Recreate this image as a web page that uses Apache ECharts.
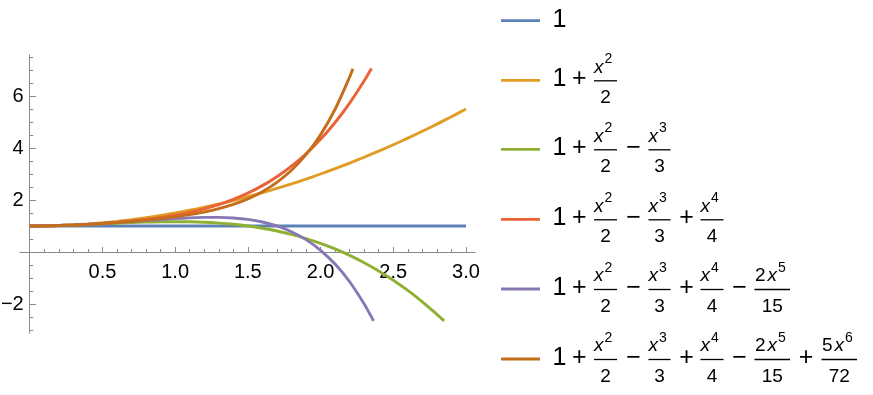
<!DOCTYPE html>
<html><head><meta charset="utf-8">
<script src="https://cdn.jsdelivr.net/npm/echarts@6/dist/echarts.min.js"></script>
<style>html,body{margin:0;padding:0;background:#fff}#c{width:873px;height:395px}</style>
</head><body><div id="c"></div>
<script>
// ---- data ----
const xs = [0,0.1,0.2,0.3,0.4,0.5,0.6,0.7,0.8,0.9,1.0,1.1,1.2,1.3,1.4,1.5,1.6,1.7,1.8,1.9,2.0,2.1,2.2,2.3,2.4,2.5,2.6,2.7,2.8,2.9,3.0];
const y1 = [1,1,1,1,1,1,1,1,1,1,1,1,1,1,1,1,1,1,1,1,1,1,1,1,1,1,1,1,1,1,1];
const y2 = [1,1.005,1.02,1.045,1.08,1.125,1.18,1.245,1.32,1.405,1.5,1.605,1.72,1.845,1.98,2.125,2.28,2.445,2.62,2.805,3.0,3.205,3.42,3.645,3.88,4.125,4.38,4.645,4.92,5.205,5.5];
const y3 = [1,1.0047,1.0173,1.036,1.0587,1.0833,1.108,1.1307,1.1493,1.162,1.1667,1.1613,1.144,1.1127,1.0653,1.0,0.9147,0.8073,0.676,0.5187,0.3333,0.118,-0.1293,-0.4107,-0.728,-1.0833,-1.4787,-1.916,-2.3973];
const end3 = [[2.85,-2.65]];
const y4 = [1,1.0047,1.0177,1.038,1.0651,1.099,1.1404,1.1907,1.2517,1.326,1.4167,1.5274,1.6624,1.8267,2.0257,2.2656,2.5531,2.8954,3.3004,3.7767,4.3333,4.98,5.7271,6.5854];
const end4 = [[2.35,7.06]];
const y5 = [1,1.0047,1.0177,1.0377,1.0637,1.0948,1.13,1.1683,1.208,1.2473,1.2833,1.3126,1.3306,1.3316,1.3086,1.2531,1.155,1.0022,0.781,0.4752,0.0667,-0.4654,-1.1444,-1.9964];
const end5 = [[2.35,-2.4962],[2.364,-2.65]];
const y6 = [1,1.0047,1.0177,1.0378,1.064,1.0959,1.1333,1.1765,1.2262,1.2842,1.3528,1.4357,1.538,1.6668,1.8315,2.0441,2.3201,2.6784,3.143,3.7423,4.5111,5.4906,6.7292];
const end6 = [[2.222,7.05]];
const seriesNames = ['1','1 + x^2/2','1 + x^2/2 - x^3/3','1 + x^2/2 - x^3/3 + x^4/4','1 + x^2/2 - x^3/3 + x^4/4 - 2x^5/15','1 + x^2/2 - x^3/3 + x^4/4 - 2x^5/15 + 5x^6/72'];
const colors = ['#5E81B5','#E19C24','#8FB032','#EB6235','#8778B3','#C56E1A'];
const xMajor = [0.5,1.0,1.5,2.0,2.5,3.0];
const xMinor = [0.1,0.2,0.3,0.4,0.6,0.7,0.8,0.9,1.1,1.2,1.3,1.4,1.6,1.7,1.8,1.9,2.1,2.2,2.3,2.4,2.6,2.7,2.8,2.9];
const yMajor = [-2,2,4,6];
const yMinor = [-3,-2.5,-1.5,-1,-0.5,0.5,1,1.5,2.5,3,3.5,4.5,5,5.5,6.5,7,7.5];

function pts(ys, ends) { return ys.map((y, i) => [xs[i], y]).concat(ends || []); }
const allData = [pts(y1), pts(y2), pts(y3, end3), pts(y4, end4), pts(y5, end5), pts(y6, end6)];

const AX = '#8a8a8a';
const FONT = '"Liberation Sans", Arial, sans-serif';
const XMIN = -0.0667, XMAX = 3.062, YMIN = -3.115, YMAX = 7.577;
const GL = 20, GR = 398, GT = 55, GB = 62, W = 873, H = 395;
// put the axes through the origin (offset from grid edge to the zero position)
const plotW = W - GL - GR, plotH = H - GT - GB;
const xOff = -(plotH * (0 - YMIN) / (YMAX - YMIN));
const yOff = -(plotW * (0 - XMIN) / (XMAX - XMIN));

function xAxisDef(vals, len, labels) {
  return {
    type: 'value', position: 'bottom', min: XMIN, max: XMAX, offset: xOff,
    axisLine: { show: true, onZero: false, lineStyle: { color: AX, width: 1 } },
    axisTick: { show: true, inside: true, length: len, customValues: vals, lineStyle: { color: AX, width: 1 } },
    axisLabel: labels ? { customValues: vals, formatter: v => v.toFixed(1), fontSize: 20, color: '#000', fontFamily: FONT, margin: 10 } : { show: false },
    splitLine: { show: false }
  };
}
function yAxisDef(vals, len, labels) {
  return {
    type: 'value', position: 'left', min: YMIN, max: YMAX, offset: yOff,
    axisLine: { show: true, onZero: false, lineStyle: { color: AX, width: 1 } },
    axisTick: { show: true, inside: true, length: len, customValues: vals, lineStyle: { color: AX, width: 1 } },
    axisLabel: labels ? { customValues: vals, formatter: v => v < 0 ? '\u2212' + Math.abs(v) : String(v), fontSize: 20, color: '#000', fontFamily: FONT, margin: 6 } : { show: false },
    splitLine: { show: false }
  };
}

// ---- legend (formula labels) ----
const rowY = [20.7, 80.3, 149.3, 219.3, 289, 359];
const G = [];
const FS = 19, SS = 14;
function t(x, y, s, size, align, italic) {
  return { type: 'text', x: x, y: y, z: 10, style: { text: s, fill: '#000', font: (italic ? 'italic ' : '') + size + 'px ' + FONT, align: align, verticalAlign: 'middle', textAlign: align, textVerticalAlign: 'middle' } };
}
function bar(x1, x2, y) {
  return { type: 'line', z: 10, shape: { x1: x1, y1: y, x2: x2, y2: y }, style: { stroke: '#000', lineWidth: 1.3 } };
}
function frac(b, barL, barR, numParts, sup, supX, den) {
  G.push(bar(barL, barR, b + 0.5));
  numParts.forEach(p => G.push(t(p[0], b - 13, p[1], FS, 'left', p[2])));
  G.push(t(supX, b - 21, sup, SS, 'left'));
  G.push(t((barL + barR) / 2, b + 17.5, den, FS, 'center'));
}
const fracs = [
  { l: 594, r: 617, num: [[594, 'x', true]], sup: '2', sx: 604.5, den: '2' },
  { l: 648.5, r: 670.5, num: [[648.5, 'x', true]], sup: '3', sx: 659, den: '3' },
  { l: 700.5, r: 723.5, num: [[700.5, 'x', true]], sup: '4', sx: 711, den: '4' },
  { l: 754.5, r: 790, num: [[755, '2'], [767.5, 'x', true]], sup: '5', sx: 778, den: '15' },
  { l: 821.5, r: 857, num: [[822, '5'], [834.5, 'x', true]], sup: '6', sx: 845, den: '72' }
];
const signs = [[579.2, '+'], [633.5, '\u2212'], [686.5, '+'], [739.5, '\u2212'], [806, '+']];
rowY.forEach((b, i) => {
  G.push({ type: 'line', z: 10, shape: { x1: 501, y1: b, x2: 540, y2: b }, style: { stroke: colors[i], lineWidth: 2.8 } });
  G.push(t(559.5, b - 0.7, '1', 25, 'center'));
  for (let k = 0; k < i; k++) {
    G.push(t(signs[k][0], b - 0.7, signs[k][1], 25, 'center'));
    const f = fracs[k];
    frac(b, f.l, f.r, f.num, f.sup, f.sx, f.den);
  }
});

const chart = echarts.init(document.getElementById('c'), null, { renderer: 'canvas' });
chart.setOption({
  animation: false,
  backgroundColor: '#fff',
  grid: { left: GL, right: GR, top: GT, bottom: GB, containLabel: false, outerBoundsMode: 'none' },
  xAxis: [xAxisDef(xMajor, 5, true), xAxisDef(xMinor, 3, false)],
  yAxis: [yAxisDef(yMajor, 6.5, true), yAxisDef(yMinor, 3.5, false)],
  series: allData.map((d, i) => ({
    name: seriesNames[i], type: 'line', data: d, xAxisIndex: 0, yAxisIndex: 0,
    showSymbol: false, smooth: 0.3, clip: false,
    lineStyle: { color: colors[i], width: 2.9 }, itemStyle: { color: colors[i] }
  })),
  graphic: G
});
</script>
</body></html>
